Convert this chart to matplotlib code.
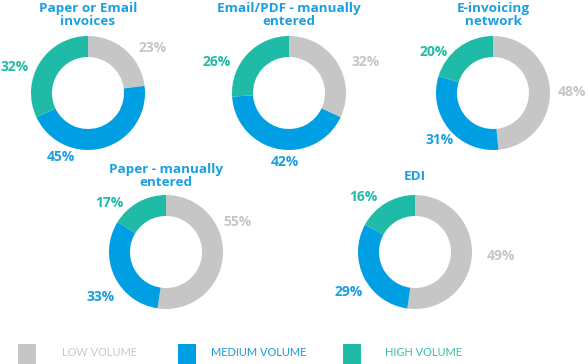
import matplotlib
matplotlib.use("Agg")
import matplotlib.pyplot as plt
from matplotlib.patches import Rectangle

# ---- data ----
titles = ["Paper or Email\ninvoices", "Email/PDF - manually\nentered", "E-invoicing\nnetwork",
          "Paper - manually\nentered", "EDI"]
low_volume = [23, 32, 48, 55, 49]
medium_volume = [45, 42, 31, 33, 29]
high_volume = [32, 26, 20, 17, 16]
series_names = ["LOW VOLUME", "MEDIUM VOLUME", "HIGH VOLUME"]

# ---- layout / style ----
W, H = 588, 364
colors = ["#c6c6c6", "#009fe3", "#1fbba6"]
text_colors = ["#c6c6c6", "#1a9fe0", "#1fbba6"]
legend_text_colors = ["#c8c8c8", "#1a9ad6", "#35bea7"]
title_color = "#1a9fe0"
centers = [(88, 93), (289, 93), (493, 93), (166, 252), (415, 252)]
title_y = [15, 15, 15, 176, 176]
label_pos = [
    [(153, 48), (61, 157), (15, 67)],
    [(366, 62), (285, 162), (217, 62)],
    [(572, 92), (440, 140), (434, 52)],
    [(237, 222), (101, 297), (109, 203)],
    [(501, 256), (349, 292), (363, 197)],
]
R_OUT, RING = 57, 21
legend_sq_x = [18, 178, 343]
legend_txt_x = [62, 211, 385]

fig = plt.figure(figsize=(W / 100, H / 100), dpi=100)
ax = fig.add_axes([0, 0, 1, 1])

def fy(y):
    return H - y

for i in range(len(titles)):
    vals = [low_volume[i], medium_volume[i], high_volume[i]]
    cx, cy = centers[i]
    ax.pie(vals, colors=colors, startangle=90, counterclock=False,
           center=(cx, fy(cy)), radius=R_OUT,
           wedgeprops=dict(width=RING, linewidth=0))
    ax.text(cx, fy(title_y[i]), titles[i], ha="center", va="center",
            fontsize=9.7, fontweight="bold", family="Open Sans",
            color=title_color, linespacing=1.0)
    for j, v in enumerate(vals):
        lx, ly = label_pos[i][j]
        ax.text(lx, fy(ly), f"{v}%", ha="center", va="center",
                fontsize=10, fontweight="bold", family="Open Sans",
                color=text_colors[j])

for k, name in enumerate(series_names):
    ax.add_patch(Rectangle((legend_sq_x[k], fy(364)), 18, 20, color=colors[k], lw=0))
    ax.text(legend_txt_x[k], fy(353), name, ha="left", va="center",
            fontsize=7.9, family="Lato", fontweight="normal",
            color=legend_text_colors[k])

ax.set_xlim(0, W)
ax.set_ylim(0, H)
ax.set_aspect("equal")
ax.axis("off")
fig.savefig("out.png", dpi=100)
